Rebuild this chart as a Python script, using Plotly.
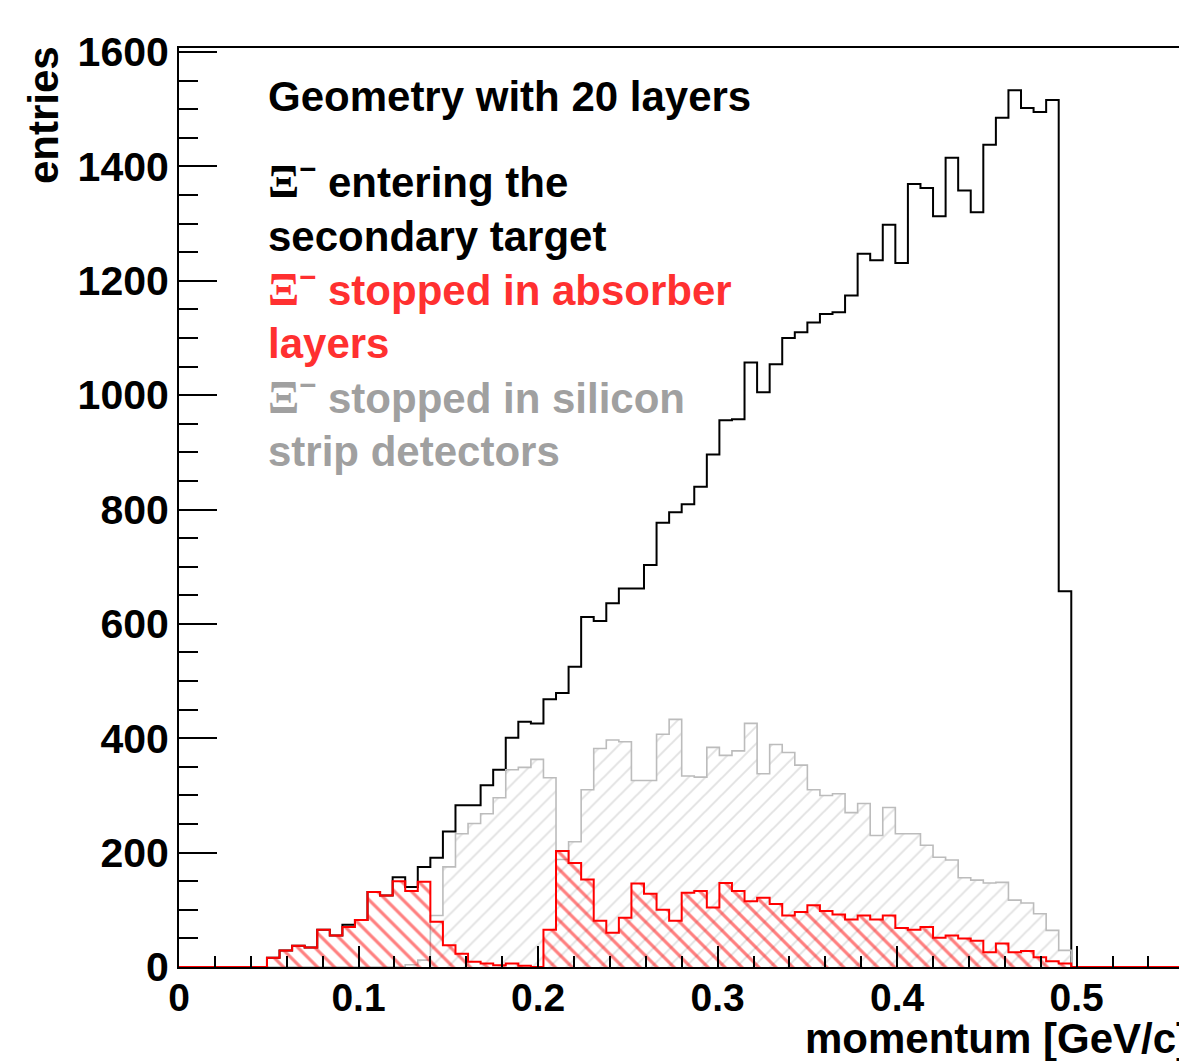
import plotly.graph_objects as go

# ---------------- data ----------------
bin_width = 0.007
n_bins = 80
bin_edges = [round(i * bin_width, 3) for i in range(n_bins + 1)]

# Xi- entering the secondary target (black)
entering = [
    0, 0, 0, 0, 0, 0, 0, 16, 29, 37,
    34, 65, 55, 74, 82, 131, 125, 157, 140, 175,
    191, 237, 283, 283, 318, 345, 401, 429, 426, 468,
    479, 525, 612, 605, 636, 662, 662, 703, 777, 795,
    809, 840, 896, 956, 958, 1057, 1005, 1054, 1100, 1110,
    1127, 1142, 1145, 1174, 1247, 1236, 1298, 1231, 1369, 1362,
    1313, 1415, 1358, 1320, 1438, 1485, 1533, 1502, 1495, 1516,
    657, 0, 0, 0, 0, 0, 0, 0, 0, 0,
]

# Xi- stopped in absorber layers (red)
absorber = [
    0, 0, 0, 0, 0, 0, 0, 16, 29, 37,
    34, 65, 55, 70, 82, 131, 125, 150, 133, 149,
    79, 38, 23, 9, 6, 3, 6, 2, 0, 65,
    203, 182, 153, 81, 60, 86, 146, 128, 100, 81,
    130, 133, 104, 147, 133, 115, 121, 110, 90, 96,
    108, 98, 92, 83, 90, 83, 90, 68, 65, 70,
    51, 55, 50, 46, 26, 41, 26, 28, 17, 10,
    6, 0, 0, 0, 0, 0, 0, 0, 0, 0,
]

# Xi- stopped in silicon strip detectors (grey)
silicon = [
    0, 0, 0, 0, 0, 0, 0, 0, 0, 0,
    0, 0, 0, 0, 0, 0, 0, 0, 4, 12,
    90, 175, 233, 251, 268, 296, 345, 349, 363, 331,
    188, 219, 310, 382, 397, 394, 326, 326, 407, 433,
    334, 332, 384, 370, 378, 426, 338, 389, 375, 353,
    310, 300, 303, 270, 286, 230, 279, 233, 233, 213,
    192, 187, 156, 152, 147, 148, 117, 112, 93, 64,
    29, 0, 0, 0, 0, 0, 0, 0, 0, 0,
]

y_ticks = [0, 200, 400, 600, 800, 1000, 1200, 1400, 1600]
x_ticks = [0, 0.1, 0.2, 0.3, 0.4, 0.5]
x_tick_labels = ["0", "0.1", "0.2", "0.3", "0.4", "0.5"]

title_text = "Geometry with 20 layers"
legend_lines = [
    ("XI entering the", "#000000"),
    ("secondary target", "#000000"),
    ("XI stopped in absorber", "#ff3030"),
    ("layers", "#ff3030"),
    ("XI stopped in silicon", "#a0a0a0"),
    ("strip detectors", "#a0a0a0"),
]

# ---------------- figure ----------------
W, H = 1179, 1061
L, R, T, B = 179, 0, 48, 94
plot_w = W - L - R
plot_h = H - T - B


def px_x(p):
    return (p - L) / plot_w


def px_y(p):
    return (H - B - p) / plot_h


def step(values):
    xs = [bin_edges[0]] + list(bin_edges)
    ys = [0] + list(values) + [0]
    return xs, ys


fig = go.Figure()

xs, ys = step(entering)
fig.add_trace(go.Scatter(
    x=xs, y=ys, mode="lines",
    line=dict(shape="hv", color="#000000", width=2),
    showlegend=False, hoverinfo="skip",
))

xs, ys = step(silicon)
fig.add_trace(go.Scatter(
    x=xs, y=ys, mode="lines", fill="tozeroy",
    fillcolor="rgba(0,0,0,0)",
    fillpattern=dict(shape="/", fgcolor="#c4c4c4", bgcolor="rgba(0,0,0,0)",
                     size=12, solidity=0.16, fillmode="overlay"),
    line=dict(shape="hv", color="#bcbcbc", width=1.6),
    showlegend=False, hoverinfo="skip",
))

xs, ys = step(absorber)
fig.add_trace(go.Scatter(
    x=xs, y=ys, mode="lines", fill="tozeroy",
    fillcolor="rgba(0,0,0,0)",
    fillpattern=dict(shape="\\", fgcolor="#ff0000", bgcolor="rgba(0,0,0,0)",
                     size=12, solidity=0.26, fillmode="overlay"),
    line=dict(shape="hv", color="#ff0000", width=2),
    showlegend=False, hoverinfo="skip",
))

font_family = "Liberation Sans, Arial, Helvetica, sans-serif"
xi = "<span style=\"font-family:'Liberation Serif';font-size:46px\">Ξ</span><sup>−</sup>"

annotations = []
annotations.append(dict(
    text=title_text, x=px_x(266), y=px_y(122), xref="paper", yref="paper",
    xanchor="left", yanchor="bottom", showarrow=False,
    font=dict(family=font_family, size=42, color="#000000", weight="bold"),
))
baselines = [200, 253, 308, 360, 416, 468]
for (txt, col), bl in zip(legend_lines, baselines):
    annotations.append(dict(
        text=txt.replace("XI", xi), x=px_x(266), y=px_y(bl + 9),
        xref="paper", yref="paper", xanchor="left", yanchor="bottom",
        showarrow=False,
        font=dict(family=font_family, size=42, color=col, weight="bold"),
    ))

annotations.append(dict(
    text="momentum [GeV/c]", x=px_x(803), y=px_y(1064),
    xref="paper", yref="paper", xanchor="left", yanchor="bottom",
    showarrow=False,
    font=dict(family=font_family, size=42, color="#000000", weight="bold"),
))
annotations.append(dict(
    text="entries", x=px_x(43), y=px_y(44), textangle=-90,
    xref="paper", yref="paper", xanchor="center", yanchor="top",
    showarrow=False,
    font=dict(family=font_family, size=42, color="#000000", weight="bold"),
))

fig.update_layout(
    width=W, height=H,
    margin=dict(l=L, r=R, t=T, b=B, pad=0),
    paper_bgcolor="white", plot_bgcolor="white",
    showlegend=False,
    annotations=annotations,
    font=dict(family=font_family, color="#000000"),
)

fig.update_xaxes(
    range=[0, 0.557], showgrid=False, zeroline=False,
    showline=True, linecolor="#000000", linewidth=2, mirror=True,
    ticks="inside", ticklen=21, tickwidth=2, tickcolor="#000000",
    tickvals=x_ticks, ticktext=x_tick_labels,
    minor=dict(dtick=0.02, ticks="inside", ticklen=11, tickwidth=2, tickcolor="#000000"),
    tickfont=dict(family=font_family, size=39, color="#000000", weight="bold"),
    ticklabelstandoff=-5,
)
fig.update_yaxes(
    range=[0, 1607], showgrid=False, zeroline=False,
    showline=True, linecolor="#000000", linewidth=2,
    ticks="inside", ticklen=38, tickwidth=2, tickcolor="#000000",
    tickvals=y_ticks,
    minor=dict(dtick=50, ticks="inside", ticklen=19, tickwidth=2, tickcolor="#000000"),
    tickfont=dict(family=font_family, size=41, color="#000000", weight="bold"),
    ticklabelstandoff=0,
)

fig.write_html("out.html")
